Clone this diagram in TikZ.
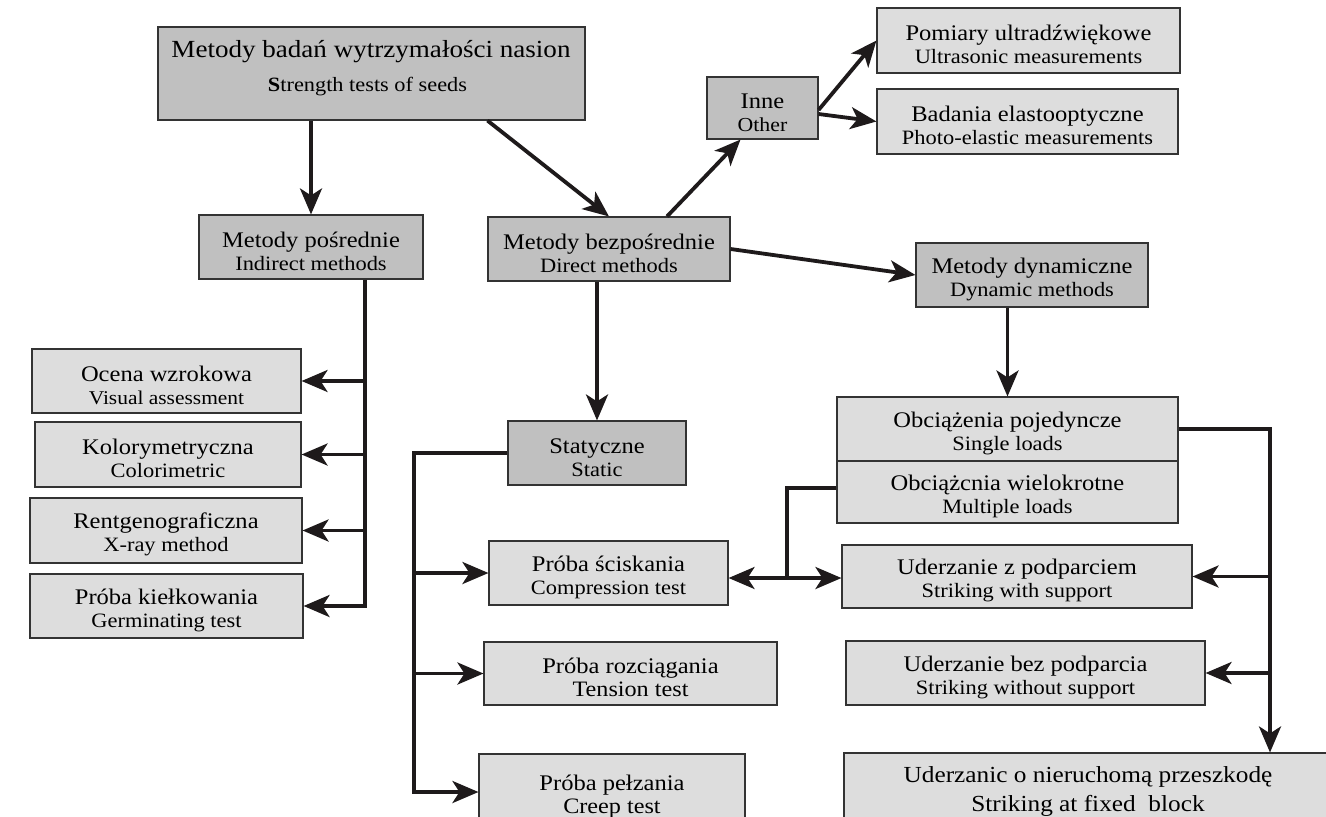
\documentclass[tikz,border=0pt]{standalone}
\usepackage{fontspec}
\setmainfont{Liberation Serif}[FakeStretch=1.1]
\usetikzlibrary{arrows.meta}
\definecolor{dk}{HTML}{C0C0C0}
\definecolor{lt}{HTML}{DDDDDD}
\definecolor{bd}{HTML}{333333}
\definecolor{ln}{HTML}{1E1A1B}
\newcommand\tl[3][20.4]{\rule{0pt}{24pt}#2\\\fontsize{#1}{23}\selectfont #3}
\newcommand\bx[7]{\node[#1, minimum width={#5-#3}, minimum height={#6-#4}] (#2) at ({(#3+#5)/2},{(#4+#6)/2}) {#7};}
\begin{document}
\begin{tikzpicture}[x=1pt,y=-1pt,
 box/.style={draw=bd, line width=1.1pt, inner sep=0pt, align=center, font=\fontsize{22.3}{23}\selectfont},
 dbox/.style={box, fill=dk},
 lbox/.style={box, fill=lt},
 con/.style={draw=ln, line width=3.8pt},
 arr/.style={con, -{Stealth[length=26pt,width=22pt,inset=7pt]}},
]
\useasboundingbox (0,0) rectangle (1326,817);
\clip (0,0) rectangle (1326,817);
\fill[white] (0,0) rectangle (1326,817);

% boxes
\bx{dbox}{title}{158}{27}{585}{120}{}
\node[anchor=base] (titleA) at (371,57) {\fontsize{24.6}{27}\selectfont Metody badań wytrzymałości nasion};
\node[anchor=base] (titleB) at (367.5,91) {\fontsize{20.3}{22}\selectfont \textbf{S}trength tests of seeds};
\bx{dbox}{inne}{707}{77}{818}{139}{\tl[19.8]{Inne}{Other}}
\bx{lbox}{pomiary}{877}{8}{1180}{73}{\tl{Pomiary ultradźwiękowe}{Ultrasonic measurements}}
\bx{lbox}{badania}{877}{89}{1178}{154}{\tl{Badania elastooptyczne}{Photo-elastic measurements}}
\bx{dbox}{indirect}{199}{215}{423}{279}{\tl{Metody pośrednie}{Indirect methods}}
\bx{dbox}{direct}{488}{217}{730}{281}{\tl{Metody bezpośrednie}{Direct methods}}
\bx{dbox}{dynamic}{916}{243}{1148}{307}{\tl{Metody dynamiczne}{Dynamic methods}}
\bx{lbox}{ocena}{32}{349}{301}{413}{\tl[19.5]{Ocena wzrokowa}{Visual assessment}}
\bx{lbox}{kolor}{35}{422}{301}{487}{\tl{Kolorymetryczna}{Colorimetric}}
\bx{lbox}{rentgen}{30}{498}{302}{563}{\tl{Rentgenograficzna}{X-ray method}}
\bx{lbox}{kielk}{30}{574}{303}{638}{\tl{Próba kiełkowania}{Germinating test}}
\bx{dbox}{static}{508}{421}{686}{485}{\tl{Statyczne}{Static}}
\bx{lbox}{sciskania}{489}{541}{728}{605}{\tl{Próba ściskania}{Compression test}}
\bx{lbox}{rozciag}{484}{642}{777}{705}{\tl[22]{Próba rozciągania}{Tension test}}
\bx{lbox}{pelzania}{479}{754}{745}{830}{\tl[22]{Próba pełzania}{Creep test}}
\bx{lbox}{single}{837}{397}{1178}{461}{\tl{Obciążenia pojedyncze}{Single loads}}
\bx{lbox}{multiple}{837}{461}{1178}{523}{\tl{Obciążcnia wielokrotne}{Multiple loads}}
\bx{lbox}{uderzz}{842}{545}{1192}{608}{\tl{Uderzanie z podparciem}{Striking with support}}
\bx{lbox}{uderzbez}{846}{641}{1205}{705}{\tl{Uderzanie bez podparcia}{Striking without support}}
\node[lbox, font=\fontsize{23}{29}\selectfont, minimum width=488, minimum height=77] (uderzo) at (1088,791.5)
  {Uderzanic o nieruchomą przeszkodę\\Striking at fixed\ \ block};

% connectors
\draw[arr] (title.south -| indirect.north) -- (indirect.north);
\draw[arr] (title.south -| direct.west) -- (direct.north);
\draw[arr] ([xshift=58pt]direct.north) -- ([xshift=-22pt]inne.south);
\draw[arr] ([yshift=-2pt]inne.east) -- (pomiary.west);
\draw[arr] ([yshift=-6pt]inne.east) -- (badania.west);
\draw[arr] (direct.east) -- (dynamic.west);

\coordinate (ib) at (365,0);
\draw[arr] (indirect.south -| ib) |- (kielk.east);
\draw[arr] (ib |- ocena.east) -- (ocena.east);
\draw[arr] (ib |- kolor.east) -- (kolor.east);
\draw[arr] (ib |- rentgen.east) -- (rentgen.east);

\draw[arr] (direct.south -| static.north) -- (static.north);
\coordinate (sb) at (414,0);
\draw[arr] (static.west) -| (sb |- pelzania.west) -- (pelzania.west);
\draw[arr] (sb |- sciskania.west) -- (sciskania.west);
\draw[arr] (sb |- rozciag.west) -- (rozciag.west);

\draw[arr] (dynamic.south -| single.north) -- (single.north);
\coordinate (mb) at (787,578);
\draw[con] ([yshift=4pt]multiple.west) -| (mb);
\draw[arr] (mb) -- (mb -| sciskania.east);
\draw[arr] (mb) -- (mb -| uderzz.west);

\coordinate (rb) at (1270,0);
\draw[arr] (single.east) -| (rb |- uderzo.north);
\draw[arr] (rb |- uderzz.east) -- (uderzz.east);
\draw[arr] (rb |- uderzbez.east) -- (uderzbez.east);
\end{tikzpicture}
\end{document}
